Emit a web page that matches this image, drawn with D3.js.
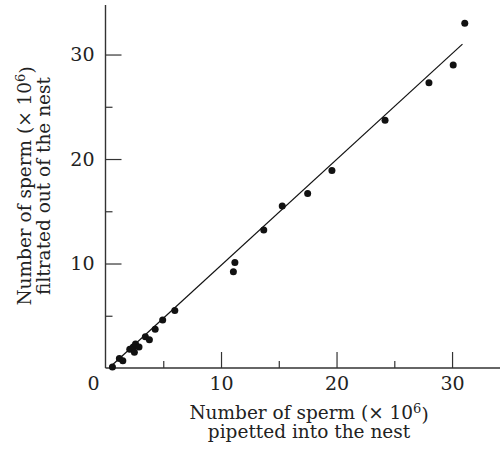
<!DOCTYPE html>
<html>
<head>
<meta charset="utf-8">
<script src="https://cdn.jsdelivr.net/npm/d3@7"></script>
<style>
  body { margin: 0; background: #fff; }
  svg text { font-family: "DejaVu Serif", "Liberation Serif", serif; fill: #222; }
</style>
</head>
<body>
<div id="chart"></div>
<script>
// sperm pipetted into the nest vs filtrated out (x 10^6)
const pipetted = [0.6, 1.2, 1.5, 2.1, 2.4, 2.6, 2.5, 2.9, 3.45, 3.8, 4.3, 4.95, 6.0,
  11.07, 11.2, 13.7, 15.3, 17.5, 19.6, 24.2, 28.0, 30.1, 31.1]
const filtrated = [0.1, 0.9, 0.7, 1.8, 2.0, 2.3, 1.5, 2.0, 3.0, 2.7, 3.7, 4.6, 5.5,
  9.2, 10.1, 13.2, 15.5, 16.7, 18.9, 23.7, 27.3, 29.0, 33.0]

// fitted line ends
const fitX = [0.4, 30.9]
const fitY = [0.1, 31.0]

const majorTicks = [10, 20, 30]
const minorTicks = [5, 15, 25]

const margin = {top: 5, right: 1, bottom: 83, left: 105.5},
  width = 501 - margin.left - margin.right,
  height = 451 - margin.top - margin.bottom

const svg = d3.select("#chart")
  .append("svg")
  .attr("width", 501)
  .attr("height", 451)

const g = svg.append("g")
  .attr("transform", "translate(" + margin.left + "," + margin.top + ")")

const x = d3.scaleLinear().domain([0, 34.15]).range([0, width])
const y = d3.scaleLinear().domain([0, 34.74]).range([height, 0])

// axes, ticks point inward
const labelSize = 19
const titleSize = 18.5

function styleAxis(sel) {
  sel.select(".domain").remove()
  sel.selectAll("line").attr("stroke", "#333").attr("stroke-width", 1.2)
  sel.selectAll("text").style("font-size", labelSize + "px").attr("fill", "#222")
}

g.append("g")
  .attr("transform", "translate(0," + height + ")")
  .call(d3.axisBottom(x).tickValues(majorTicks).tickSizeInner(-16).tickSizeOuter(0).tickPadding(9))
  .call(styleAxis)

g.append("g")
  .attr("transform", "translate(0," + height + ")")
  .call(d3.axisBottom(x).tickValues(minorTicks).tickSizeInner(-7).tickSizeOuter(0).tickFormat(""))
  .call(styleAxis)

g.append("g")
  .call(d3.axisLeft(y).tickValues(majorTicks).tickSizeInner(-16).tickSizeOuter(0).tickPadding(11))
  .call(styleAxis)

g.append("g")
  .call(d3.axisLeft(y).tickValues(minorTicks).tickSizeInner(-7).tickSizeOuter(0).tickFormat(""))
  .call(styleAxis)

// axis lines
g.append("line")
  .attr("x1", 0).attr("x2", 0)
  .attr("y1", 0).attr("y2", height)
  .attr("stroke", "#333").attr("stroke-width", 1.4)

g.append("line")
  .attr("x1", 0).attr("x2", width)
  .attr("y1", height).attr("y2", height)
  .attr("stroke", "#333").attr("stroke-width", 1.4)

// shared zero label in the corner
g.append("text")
  .attr("x", -12)
  .attr("y", height + 9)
  .attr("dy", "0.71em")
  .attr("text-anchor", "middle")
  .style("font-size", labelSize + "px")
  .text("0")

// fitted line
g.append("line")
  .attr("x1", x(fitX[0])).attr("y1", y(fitY[0]))
  .attr("x2", x(fitX[1])).attr("y2", y(fitY[1]))
  .attr("stroke", "#111")
  .attr("stroke-width", 1.2)

// points
g.selectAll("circle.pt")
  .data(pipetted.map((d, i) => ({px: d, py: filtrated[i]})))
  .enter()
  .append("circle")
  .attr("class", "pt")
  .attr("cx", d => x(d.px))
  .attr("cy", d => y(d.py))
  .attr("r", 3.5)
  .attr("fill", "#111")

// axis titles
function title(sel, line1, line2) {
  const t1 = sel.append("text").attr("text-anchor", "middle").style("font-size", titleSize + "px")
  t1.append("tspan").text(line1)
  t1.append("tspan").attr("dy", "-0.45em").style("font-size", "13px").text("6")
  t1.append("tspan").attr("dy", "0.45em").text(")")
  sel.append("text")
    .attr("text-anchor", "middle")
    .attr("y", 19)
    .style("font-size", titleSize + "px")
    .text(line2)
}

const xTitle = svg.append("g").attr("transform", "translate(309,419)")
title(xTitle, "Number of sperm (\u00d7 10", "pipetted into the nest")

const yTitle = svg.append("g").attr("transform", "translate(31,186) rotate(-90)")
title(yTitle, "Number of sperm (\u00d7 10", "filtrated out of the nest")
</script>
</body>
</html>
